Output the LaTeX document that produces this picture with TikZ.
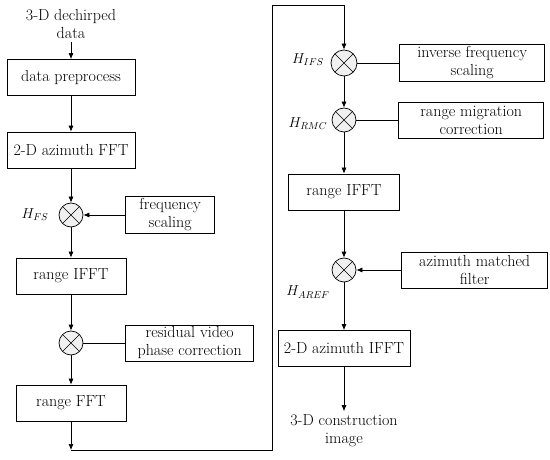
\documentclass[tikz,border=0pt]{standalone}
\usetikzlibrary{positioning,arrows.meta}
\begin{document}
\begin{tikzpicture}[x=1pt,y=-1pt,
  font=\fontsize{16}{18}\selectfont,
  >={Latex[length=6pt,width=5pt]},
  line width=0.7pt,
  blk/.style={rectangle, draw, minimum height=36pt, inner sep=2pt, align=center},
  mixer/.style={circle, draw, fill=gray!12, minimum size=24pt, inner sep=0pt,
    path picture={\draw (path picture bounding box.south west) -- (path picture bounding box.north east)
      (path picture bounding box.north west) -- (path picture bounding box.south east);}},
  lbl/.style={font=\fontsize{14}{16}\selectfont}]
\useasboundingbox (0,0) rectangle (550,460);

% left column
\node[align=center] (in) at (71,24) {3-D dechirped\\data};
\node[blk, minimum width=128pt] (prep) at (71,77.5) {data preprocess};
\node[blk, minimum width=128pt] (azfft) at (71,150) {2-D azimuth FFT};
\node[mixer] (mfs) at (71,215) {};
\node[lbl] (hfs) at (35,215) {$H_{FS}$};
\node[blk, minimum width=89pt, right=42pt of mfs] (fsc) {frequency\\scaling};
\node[blk, minimum width=110pt] (rifft) at (71,276) {range IFFT};
\node[mixer] (mrvp) at (71,343) {};
\node[blk, minimum width=128pt, right=42pt of mrvp] (rvp) {residual video\\phase correction};
\node[blk, minimum width=110pt] (rfft) at (71,403) {range FFT};
\coordinate (turn) at (71,450);
\coordinate (up) at (272,450);
\coordinate (top) at (272,5);
\coordinate (top2) at (344,5);

% right column
\node[mixer, minimum size=26pt] (mifs) at (344,63) {};
\node[lbl] (hifs) at (308,60) {$H_{IFS}$};
\node[blk, minimum width=145pt, right=42pt of mifs] (ifs) {inverse frequency\\scaling};
\node[mixer] (mrmc) at (344,120) {};
\node[lbl] (hrmc) at (308,124) {$H_{RMC}$};
\node[blk, minimum width=145pt, right=42pt of mrmc] (rmc) {range migration\\correction};
\node[blk, minimum width=111pt] (rifft2) at (344,192) {range IFFT};
\node[mixer] (maref) at (344,270) {};
\node[lbl] (haref) at (308,292) {$H_{AREF}$};
\node[blk, minimum width=146pt, right=45pt of maref] (amf) {azimuth matched\\filter};
\node[blk, minimum width=132pt] (azifft) at (344,348.5) {2-D azimuth IFFT};
\node[align=center] (out) at (344,431) {3-D construction\\image};

\draw[->] (in) -- (prep);
\draw[->] (prep) -- (azfft);
\draw[->] (azfft) -- (mfs);
\draw[->] (fsc) -- (mfs);
\draw[->] (mfs) -- (rifft);
\draw[->] (rifft) -- (mrvp);
\draw (rvp) -- (mrvp);
\draw[->] (mrvp) -- (rfft);
\draw[->] (rfft) -- (turn);
\draw (turn) -- (up) -- (top) -- (top2);
\draw[->] (top2) -- (mifs);
\draw (ifs) -- (mifs);
\draw[->] (mifs) -- (mrmc);
\draw (rmc) -- (mrmc);
\draw[->] (mrmc) -- (rifft2);
\draw[->] (rifft2) -- (maref);
\draw[->] (amf) -- (maref);
\draw[->] (maref) -- (azifft);
\draw[->] (azifft) -- (out);
\end{tikzpicture}
\end{document}
